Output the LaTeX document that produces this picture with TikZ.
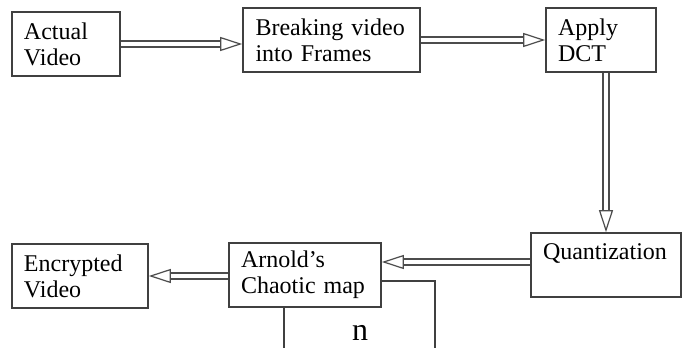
\documentclass[tikz,border=0pt]{standalone}
\usepackage{fontspec}
\setmainfont{Liberation Serif}
\usetikzlibrary{arrows.meta}

\begin{document}
\begin{tikzpicture}[x=0.5pt, y=-0.5pt,
    BoxStyle/.style = {draw=black!75, line width=0.8pt, align=left,
        font=\fontsize{12}{13}\selectfont, inner xsep=6pt, inner ysep=4pt, minimum height=32pt},
    FlowStyle/.style = {draw=black!70, line width=0.6pt, double, double distance=2.4pt,
        -{Triangle[open, length=11pt, width=7pt]}}]
    \useasboundingbox (0,0) rectangle (686,348);
    % top row
    \node[BoxStyle, minimum width=54pt, text width=42pt] (actual) at (66,44) {Actual\\Video};
    \node[BoxStyle, minimum width=88.5pt, text width=76pt] (frames) at (331.5,40) {Breaking video\\into Frames};
    \node[BoxStyle, minimum width=55pt, text width=43pt] (dct) at (601,40) {Apply\\DCT};
    % bottom row
    \node[BoxStyle, minimum width=75pt, text width=63pt] (quant) at (606,265) {Quantization\\\mbox{}};
    \node[BoxStyle, minimum width=76pt, text width=64pt] (arnold) at (305,275) {Arnold's\\Chaotic map};
    \node[BoxStyle, minimum width=68pt, text width=56pt] (encrypted) at (80,276) {Encrypted\\Video};
    \node[font=\fontsize{16}{16}\selectfont] (n) at (360,333) {n};
    % feedback loop
    \coordinate (loopout) at (381,281);
    \coordinate (loopright) at (435,350);
    \coordinate (loopleft) at (284,350);
    % arrows
    \draw[FlowStyle] (actual.east) -- (actual.east -| frames.west);
    \draw[FlowStyle] (frames) -- (dct);
    \draw[FlowStyle] (dct.south -| quant.north) -- (quant.north);
    \draw[FlowStyle] ([yshift=1.5pt]quant.west) -- ([yshift=1.5pt]quant.west -| arnold.east);
    \draw[FlowStyle] (arnold.west |- encrypted.east) -- (encrypted.east);
    \draw[draw=black!75, line width=0.8pt] (loopout) -| (loopright);
    \draw[draw=black!75, line width=0.8pt] (arnold.south -| loopleft) -- (loopleft);
\end{tikzpicture}
\end{document}
